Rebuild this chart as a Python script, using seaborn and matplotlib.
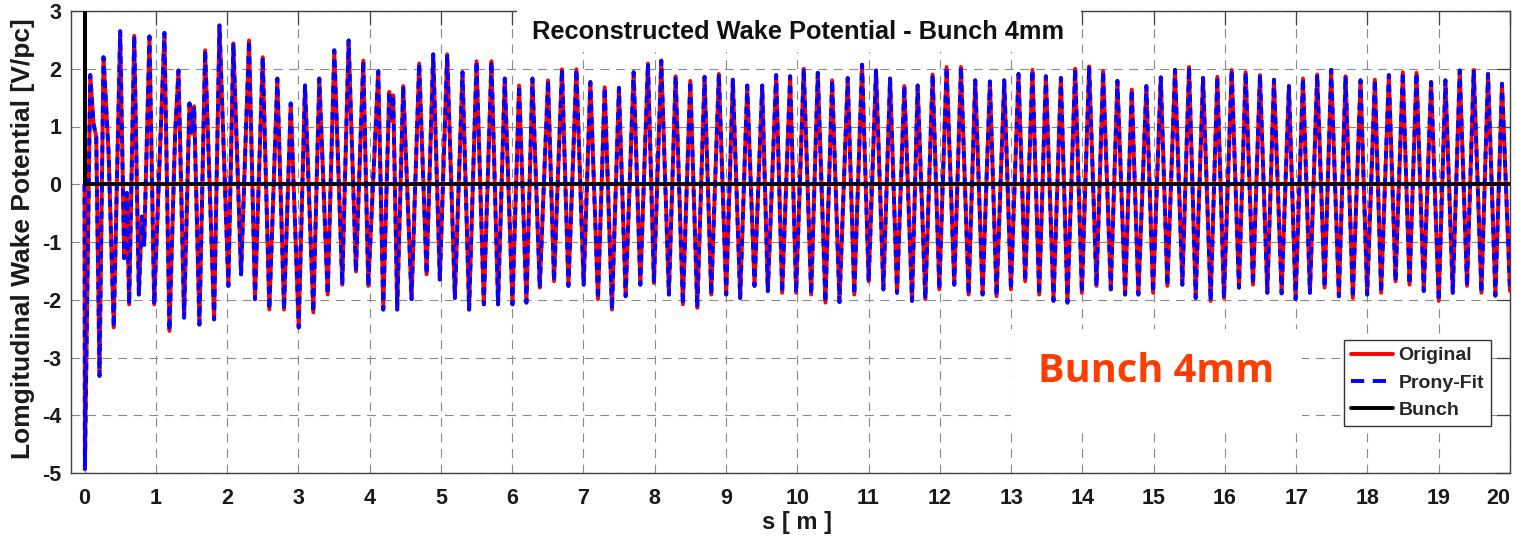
import matplotlib
matplotlib.use("Agg")
import matplotlib.pyplot as plt
from matplotlib.patches import Rectangle
from matplotlib.lines import Line2D
import seaborn as sns
import pandas as pd

# Longitudinal wake potential vs. distance behind the bunch (extrema of each oscillation)
s_m = [
    0.0, 0.005, 0.08, 0.126, 0.164, 0.21, 0.266, 0.337, 0.41, 0.50,
    0.556, 0.594, 0.626, 0.697, 0.762, 0.804, 0.837, 0.911, 0.977, 1.121,
    1.191, 1.271, 1.318, 1.397, 1.472, 1.505, 1.537, 1.612, 1.692, 1.818,
    1.893, 2.018, 2.088, 2.196, 2.308, 2.392, 2.50, 2.593, 2.705, 2.799,
    2.893, 3.005, 3.093, 3.21, 3.294, 3.411, 3.504, 3.616, 3.705, 3.808,
    3.911, 3.981, 4.121, 4.191, 4.275, 4.303, 4.331, 4.387, 4.471, 4.588,
    4.695, 4.799, 4.892, 4.985, 5.088, 5.196, 5.303, 5.396, 5.50, 5.602,
    5.709, 5.802, 5.896, 6.004, 6.097, 6.20, 6.284, 6.387, 6.503, 6.587,
    6.699, 6.789, 6.901, 7.003, 7.097, 7.204, 7.298, 7.40, 7.498, 7.592,
    7.704, 7.798, 7.905, 7.989, 8.092, 8.199, 8.293, 8.395, 8.499, 8.597,
    8.699, 8.793, 8.90, 9.003, 9.096, 9.199, 9.298, 9.40, 9.508, 9.587,
    9.704, 9.788, 9.90, 9.984, 10.091, 10.195, 10.288, 10.395, 10.489, 10.592,
    10.708, 10.80, 10.909, 11.002, 11.105, 11.208, 11.302, 11.40, 11.502, 11.61,
    11.689, 11.797, 11.899, 11.993, 12.095, 12.203, 12.297, 12.404, 12.497, 12.60,
    12.703, 12.796, 12.904, 12.998, 13.104, 13.198, 13.30, 13.394, 13.488, 13.595,
    13.699, 13.791, 13.899, 13.993, 14.095, 14.198, 14.291, 14.399, 14.492, 14.60,
    14.693, 14.786, 14.898, 14.992, 15.10, 15.193, 15.30, 15.403, 15.497, 15.59,
    15.693, 15.80, 15.893, 15.987, 16.095, 16.197, 16.291, 16.394, 16.492, 16.595,
    16.688, 16.796, 16.898, 16.992, 17.095, 17.193, 17.295, 17.399, 17.491, 17.599,
    17.693, 17.795, 17.903, 17.996, 18.104, 18.192, 18.30, 18.394, 18.496, 18.59,
    18.688, 18.79, 18.893, 19.0, 19.094, 19.197, 19.295, 19.397, 19.491, 19.599,
    19.692, 19.795, 19.888, 20.0,
]

original_v = [
    0.0, -4.93, 1.89, 1.05, 0.82, -3.32, 2.20, 0.56, -2.48, 2.65,
    -1.28, -0.15, -2.08, 2.57, -1.91, -0.56, -1.05, 2.56, -2.08, 2.62,
    -2.54, 0.88, 1.97, -2.31, 1.40, 0.88, 1.35, -2.43, 2.32, -2.34,
    2.75, -1.76, 2.44, -1.56, 2.49, -1.99, 2.20, -2.17, 1.83, -2.17,
    1.40, -2.48, 1.71, -2.22, 1.83, -1.91, 2.32, -1.74, 2.49, -1.51,
    2.14, -1.76, 1.96, -2.17, 1.60, 1.10, 1.54, -2.17, 1.70, -1.99,
    2.09, -1.56, 2.25, -1.65, 2.25, -1.97, 1.94, -2.17, 2.13, -2.08,
    2.13, -2.08, 1.83, -2.08, 1.71, -2.05, 1.83, -1.79, 1.80, -1.68,
    1.99, -1.76, 1.99, -1.74, 1.77, -1.99, 1.68, -2.17, 1.67, -1.94,
    1.94, -1.74, 2.09, -1.71, 2.14, -1.91, 1.87, -2.08, 1.79, -2.14,
    1.86, -1.91, 1.91, -1.91, 1.81, -1.97, 1.71, -1.76, 1.71, -1.85,
    1.89, -1.88, 1.87, -1.88, 2.00, -1.91, 1.93, -2.05, 1.80, -2.04,
    1.84, -1.91, 2.07, -1.68, 1.97, -1.82, 1.83, -1.88, 1.70, -2.02,
    1.71, -1.99, 1.90, -1.82, 2.03, -1.74, 2.03, -1.91, 1.80, -1.91,
    1.78, -1.94, 1.80, -1.82, 1.91, -1.68, 1.98, -1.91, 1.87, -2.02,
    1.84, -2.05, 2.00, -1.88, 2.04, -1.76, 1.96, -1.82, 1.79, -1.91,
    1.64, -1.91, 1.70, -1.88, 1.85, -1.76, 1.98, -1.74, 2.03, -1.97,
    1.84, -2.02, 1.86, -1.97, 1.98, -1.79, 1.94, -1.74, 1.89, -1.88,
    1.81, -1.89, 1.70, -1.99, 1.83, -1.88, 1.90, -1.79, 1.98, -1.94,
    1.87, -1.97, 1.80, -1.91, 1.81, -1.88, 1.89, -1.68, 1.94, -1.74,
    1.93, -1.85, 1.77, -2.02, 1.80, -1.88, 1.97, -1.76, 1.98, -1.88,
    1.91, -1.93, 1.74, -1.85,
]

# The Prony fit reproduces the simulated wake within the line width
prony_v = list(original_v)

# Bunch profile (4 mm) drawn as a spike at s = 0 and a baseline
bunch_s = [0.0, 0.0, 0.0, 20.0]
bunch_v = [0.0, 3.0, 0.0, 0.0]

x_ticks = list(range(0, 21))
y_ticks = list(range(-5, 4))

title_text = "Reconstructed Wake Potential - Bunch 4mm"
x_label = "s [ m ]"
y_label = "Lomgitudinal Wake Potential [V/pc]"
note_text = "Bunch 4mm"
series_names = ["Original", "Prony-Fit", "Bunch"]

sns.set_theme(style="white")
plt.rcParams["font.family"] = ["Liberation Sans", "DejaVu Sans"]
plt.rcParams["font.weight"] = "bold"
plt.rcParams["axes.unicode_minus"] = False

W, H = 1516, 539
fig = plt.figure(figsize=(W / 100, H / 100), dpi=100)
ax = fig.add_axes([71 / W, 1 - 473 / H, 1439 / W, 462 / H])

df = pd.DataFrame({"s": s_m, "original": original_v, "prony": prony_v})
bunch_df = pd.DataFrame({"s": bunch_s, "v": bunch_v})

sns.lineplot(data=df, x="s", y="original", ax=ax, color=(1, 0, 0), lw=2.8,
             sort=False, estimator=None, zorder=3,
             solid_joinstyle="round", solid_capstyle="round")
sns.lineplot(data=df, x="s", y="prony", ax=ax, color=(0, 0, 1), lw=2.8,
             sort=False, estimator=None, zorder=4,
             linestyle=(0, (1.9, 1.5)), dash_joinstyle="round")
sns.lineplot(data=bunch_df, x="s", y="v", ax=ax, color="black", lw=2.8,
             sort=False, estimator=None, zorder=5)

ax.set_xlim(-0.19, 20)
ax.set_ylim(-5, 3)
ax.set_xticks(x_ticks)
ax.set_yticks(y_ticks)
ax.set_xlabel("")
ax.set_ylabel("")

ax.grid(True, color="#8a8a8a", lw=0.8, linestyle=(0, (8, 6)))
ax.tick_params(direction="in", length=10, width=0.9, top=True, right=True,
               color="#404040", labelcolor="#1a1a1a", labelsize=15.5)
ax.tick_params(axis="x", pad=11)
ax.tick_params(axis="y", pad=7)
for sp in ax.spines.values():
    sp.set_color("#404040")
    sp.set_linewidth(1.0)

# keep the last x label inside the frame
fig.canvas.draw()
ax.get_xticklabels()[-1].set_horizontalalignment("right")

# White panel behind the annotation
ax.add_patch(Rectangle((13.0, -4.29), 4.08, 1.78, facecolor="white",
                       edgecolor="none", zorder=2))
ax.text(15.03, -3.25, note_text, color="#FF3D00", fontsize=28.5,
        family=["Open Sans", "DejaVu Sans"], fontweight="bold",
        ha="center", va="center", zorder=6)

handles = [
    Line2D([], [], color=(1, 0, 0), lw=2.8),
    Line2D([], [], color=(0, 0, 1), lw=2.8, linestyle=(0, (3.4, 2.2))),
    Line2D([], [], color="black", lw=2.8),
]
leg = ax.legend(handles, series_names, loc="upper right",
                bbox_to_anchor=(0.9868, 0.2879), borderaxespad=0,
                prop={"size": 14, "weight": "bold"}, frameon=True,
                fancybox=False, framealpha=1, edgecolor="#333333",
                handlelength=2.15, handletextpad=0.3, borderpad=0.35,
                labelspacing=0.5)
leg.get_frame().set_linewidth(1.0)
leg.set_zorder(7)

# Title on a white band across the top of the frame
fig.add_artist(Rectangle((517 / W, 1 - 52 / H), (1081 - 517) / W, 52 / H,
                         transform=fig.transFigure, facecolor="white",
                         edgecolor="none", zorder=10))
fig.text(798 / W, 1 - 32 / H, title_text, fontsize=18.3, fontweight="bold",
         ha="center", va="center", color="#111111", zorder=11)

fig.text(797 / W, 1 - 522 / H, x_label, fontsize=17, fontweight="bold",
         ha="center", va="center", color="#1a1a1a")
fig.text(23 / W, 1 - 239 / H, y_label, fontsize=19, fontweight="bold",
         rotation=90, ha="center", va="center", color="#1a1a1a")

fig.savefig("out.png", dpi=100)
